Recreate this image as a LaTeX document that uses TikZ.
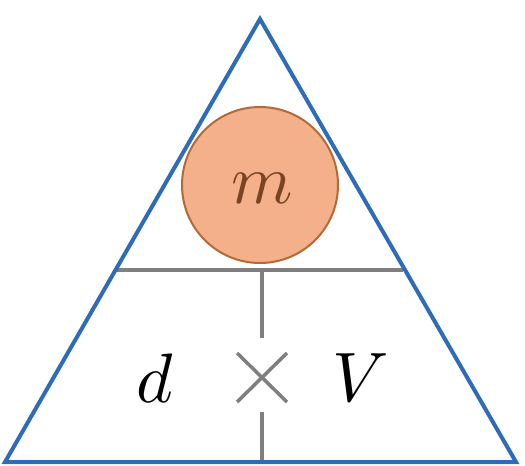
\documentclass[tikz,border=0pt]{standalone}
\begin{document}
\begin{tikzpicture}[x=1pt,y=-1pt,
  tri/.style={draw=triblue,line width=4pt,line join=miter},
  sep/.style={draw=sepgray,line width=3.5pt},
  lbl/.style={inner sep=0pt,scale=7}]
\definecolor{triblue}{HTML}{2E6CB8}
\definecolor{sepgray}{HTML}{7F7F7F}
\definecolor{ballfill}{HTML}{F3B08B}
\definecolor{balldraw}{HTML}{B36A37}
\definecolor{mtext}{HTML}{7A4424}
\useasboundingbox (0,0) rectangle (525,466);
\coordinate (apex) at (260,19);
\coordinate (bl) at (5,462);
\coordinate (br) at (516,462);
\coordinate (hl) at (115.5,270);
\coordinate (hr) at (403,270);
\coordinate (vt) at (262,270);
\coordinate (vm1) at (262,338);
\coordinate (vm2) at (262,412);
\coordinate (vb) at (262,462);
\draw[sep] (hl) -- (hr);
\draw[sep] (vt) -- (vm1);
\draw[sep] (vm2) -- (vb);
\draw[sep] (237,353) -- (287,402);
\draw[sep] (237,402) -- (287,353);
\draw[tri] (apex) -- (bl) -- (br) -- cycle;
\node[circle,minimum size=156pt,inner sep=0pt,fill=ballfill,draw=balldraw,line width=2pt] (ball) at (260,185) {};
\node[lbl,text=mtext] (m) at (262,188) {$m$};
\node[lbl] (d) at (155,378) {$d$};
\node[lbl] (V) at (361,378) {$V$};
\end{tikzpicture}
\end{document}
